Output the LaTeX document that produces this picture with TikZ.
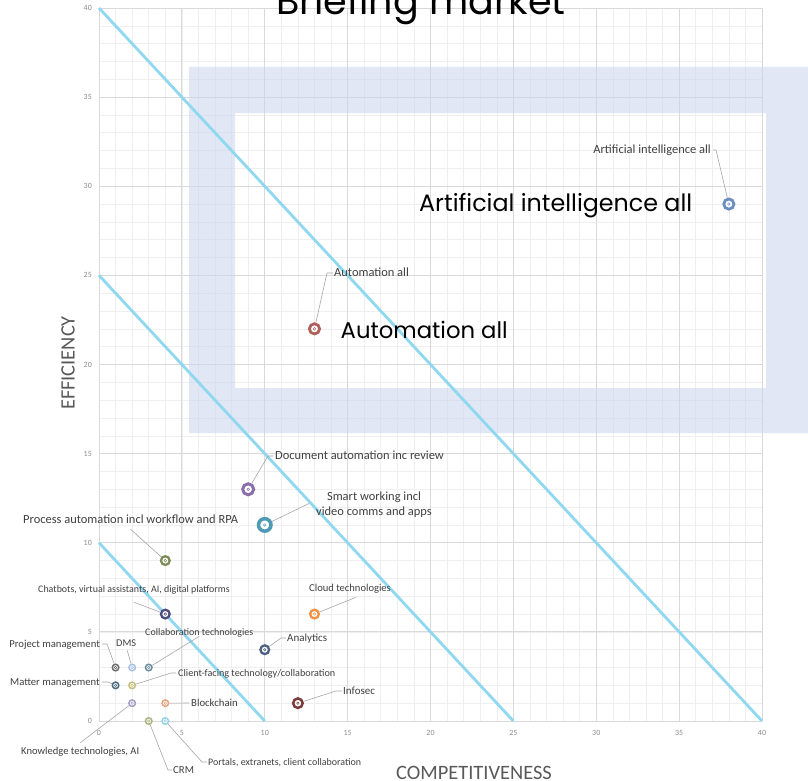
\documentclass[tikz,border=0pt]{standalone}
\usepackage{graphicx}
\usepackage{fontspec}
\setmainfont{Carlito}
\newfontfamily\geofont{Poppins}
\definecolor{minorg}{HTML}{EFEFEF}
\definecolor{majorg}{HTML}{D9D9D9}
\definecolor{diagc}{HTML}{8FD8F0}
\definecolor{bandc}{HTML}{C9D4EC}
\definecolor{labc}{HTML}{404040}
\definecolor{leadc}{HTML}{A6A6A6}
\definecolor{tickc}{HTML}{8C8C8C}
\definecolor{axc}{HTML}{595959}
\definecolor{cai}{HTML}{6C8EBF}
\definecolor{cauto}{HTML}{B0605B}
\definecolor{cdoc}{HTML}{8B6FAA}
\definecolor{csmart}{HTML}{4F9BB3}
\definecolor{cproc}{HTML}{7D8C57}
\definecolor{cchat}{HTML}{4E4B7E}
\definecolor{ccloud}{HTML}{F09040}
\definecolor{cana}{HTML}{4D6283}
\definecolor{cinfo}{HTML}{7A3B3A}
\definecolor{ccoll}{HTML}{6D8C99}
\definecolor{cdms}{HTML}{A7BFE3}
\definecolor{cproj}{HTML}{6B6B6B}
\definecolor{cclient}{HTML}{C5BF7B}
\definecolor{cmatter}{HTML}{4D6C7D}
\definecolor{cknow}{HTML}{A59DC4}
\definecolor{cblock}{HTML}{E4A47C}
\definecolor{ccrm}{HTML}{A8B67F}
\definecolor{cport}{HTML}{93D2E4}
\tikzset{
  lab/.style={font=\fontsize{#1}{#1}\selectfont, text=labc, inner sep=0pt, text height=0.62em, text depth=0pt},
  lead/.style={draw=leadc, line width=0.6bp},
  mk/.style n args={3}{circle, draw=#1, line width=#3, fill=white, inner sep=0pt, minimum size=#2},
  tick/.style={font=\fontsize{8}{8}\selectfont, text=tickc, inner sep=0pt},
  diagline/.style={draw=diagc, line width=2.8bp},
  axtitle/.style={font=\fontsize{20.5}{20.5}\selectfont, text=axc, inner sep=0pt},
}
\newcommand\dpoint[6]{%
  \node[mk={#4}{#5}{#6}] (#1) at (#2,#3) {};
  \draw[#4, line width=0.5bp] (#1.center) circle (1.3bp);
}
\begin{document}
\begin{tikzpicture}[x=1bp,y=-1bp]
\useasboundingbox (0,0) rectangle (808,781);
\fill[white] (0,0) rectangle (808,781);
% grid
\begin{scope}[shift={(99,721)}, x=16.575bp, y=17.825bp]
  \foreach \i in {0,...,40} {
    \draw[minorg, line width=0.6bp] (\i,0) -- (\i,40);
    \draw[minorg, line width=0.6bp] (0,\i) -- (40,\i);
  }
  \foreach \i in {0,5,...,40} {
    \draw[majorg, line width=0.8bp] (\i,0) -- (\i,40);
    \draw[majorg, line width=0.8bp] (0,\i) -- (40,\i);
    \node[tick, anchor=north, yshift=-9bp] at (\i,0) {\i};
    \node[tick, anchor=east, xshift=-7bp] at (0,\i) {\i};
  }
\end{scope}
% band
\fill[bandc, opacity=0.55, even odd rule] (189,67) rectangle (808,433) (235,113) rectangle (766,388);
% diagonals and points
\begin{scope}[shift={(99,721)}, x=16.575bp, y=17.825bp]
  \coordinate (d40a) at (0,40); \coordinate (d40b) at (40,0);
  \coordinate (d25a) at (0,25); \coordinate (d25b) at (25,0);
  \coordinate (d10a) at (0,10); \coordinate (d10b) at (10,0);
  \draw[diagline] (d40a) -- (d40b);
  \draw[diagline] (d25a) -- (d25b);
  \draw[diagline] (d10a) -- (d10b);
  \dpoint{ai}{38}{29}{cai}{10.2bp}{2.8bp}
  \dpoint{auto}{13}{22}{cauto}{10.2bp}{2.8bp}
  \dpoint{doc}{9}{13}{cdoc}{11bp}{3bp}
  \dpoint{smart}{10}{11}{csmart}{12.5bp}{3.5bp}
  \dpoint{proc}{4}{9}{cproc}{8.7bp}{2.3bp}
  \dpoint{chat}{4}{6}{cchat}{8.7bp}{2.3bp}
  \dpoint{cloud}{13}{6}{ccloud}{8.7bp}{2.3bp}
  \dpoint{ana}{10}{4}{cana}{8.7bp}{2.3bp}
  \dpoint{info}{12}{1}{cinfo}{9.5bp}{2.5bp}
  \dpoint{coll}{3}{3}{ccoll}{6.5bp}{1.5bp}
  \dpoint{dms}{2}{3}{cdms}{6.5bp}{1.5bp}
  \dpoint{proj}{1}{3}{cproj}{6.5bp}{1.5bp}
  \dpoint{client}{2}{2}{cclient}{6.5bp}{1.5bp}
  \dpoint{matter}{1}{2}{cmatter}{6.5bp}{1.5bp}
  \dpoint{know}{2}{1}{cknow}{6.5bp}{1.5bp}
  \dpoint{block}{4}{1}{cblock}{6.5bp}{1.5bp}
  \dpoint{crm}{3}{0}{ccrm}{6.5bp}{1.5bp}
  \dpoint{port}{4}{0}{cport}{6.5bp}{1.5bp}
\end{scope}
% labels and leaders
\node[lab=12.5, anchor=east] (ailab) at (711,150) {Artificial intelligence all};
\draw[lead] ([xshift=2bp]ailab.east) -- ++(3,0) -- (ai);
\node[lab=12.5, anchor=west] (autolab) at (334,273) {Automation all};
\draw[lead] ([xshift=-1bp]autolab.west) -- ++(-6,0) -- (auto);
\node[lab=12.5, anchor=west] (doclab) at (275,456) {Document automation inc review};
\draw[lead] ([xshift=-2bp]doclab.west) -- ++(-5,0) -- (doc);
\node[font=\fontsize{12.5}{15}\selectfont, text=labc, inner sep=0pt, align=center] (smartlab) at (374,505) {Smart working incl\\video comms and apps};
\draw[lead] ([xshift=-7bp,yshift=1.5bp]smartlab.west) -- (smart);
\node[lab=12.5, anchor=west] (proclab) at (23,520) {Process automation incl workflow and RPA};
\draw[lead] ([yshift=-6bp]proclab.south) -- (proc);
\node[lab=10, anchor=west] (chatlab) at (38,589) {Chatbots, virtual assistants, AI, digital platforms};
\draw[lead] ([yshift=-10bp]chatlab.south) -- (chat);
\node[lab=10.6, anchor=west] (cloudlab) at (309,588) {Cloud technologies};
\draw[lead] ([xshift=6bp,yshift=-6bp]cloudlab.south) -- (cloud);
\node[lab=11, anchor=west] (analab) at (287,638) {Analytics};
\draw[lead] ([xshift=-1bp]analab.west) -- ++(-5,0) -- (ana);
\node[lab=10, anchor=west] (colllab) at (145,632) {Collaboration technologies};
\draw[lead] ([yshift=-1bp]colllab.south) -- (coll);
\node[lab=10.4, anchor=west] (dmslab) at (116,643) {DMS};
\draw[lead] ([xshift=1bp,yshift=-4bp]dmslab.south) -- (dms);
\node[lab=10.7, anchor=east] (projlab) at (100,644) {Project management};
\draw[lead] ([xshift=2bp]projlab.east) -- ++(5,0) -- (proj);
\node[lab=10.2, anchor=west] (clientlab) at (178,673) {Client-facing technology/collaboration};
\draw[lead] ([xshift=-2bp]clientlab.west) -- ++(-5,0) -- (client);
\node[lab=10.7, anchor=east] (matterlab) at (100,682) {Matter management};
\draw[lead] ([xshift=2bp]matterlab.east) -- ++(6,0) -- (matter);
\node[lab=10.6, anchor=west] (knowlab) at (21,751) {Knowledge technologies, AI};
\draw[lead] ([yshift=5bp]knowlab.north) -- (know);
\node[lab=10.8, anchor=west] (blocklab) at (191,703) {Blockchain};
\draw[lead] ([xshift=-2bp]blocklab.west) -- (block);
\node[lab=10.8, anchor=west] (crmlab) at (173,770) {CRM};
\draw[lead] ([xshift=-1bp]crmlab.west) -- ++(-4,0) -- (crm);
\node[lab=10, anchor=west] (portlab) at (208,762) {Portals, extranets, client collaboration};
\draw[lead] ([xshift=-1bp]portlab.west) -- ++(-5,0) -- (port);
\node[lab=11, anchor=west] (infolab) at (343,691) {Infosec};
\draw[lead] ([xshift=-1bp]infolab.west) -- ++(-6,0) -- (info);
% big labels and title
\node[anchor=base west, inner sep=0pt] (aibig) at (419,211) {\resizebox{273bp}{!}{\geofont Artificial intelligence all}};
\node[anchor=base west, inner sep=0pt] (autobig) at (340.5,338) {\resizebox{167bp}{!}{\geofont Automation all}};
\node[anchor=base, inner sep=0pt] (title) at (421,15) {\resizebox{289bp}{!}{\geofont Briefing market}};
% axis titles
\node[axtitle] (xtitle) at (474,773) {COMPETITIVENESS};
\node[axtitle, rotate=90] (ytitle) at (68,363) {EFFICIENCY};
\end{tikzpicture}
\end{document}
